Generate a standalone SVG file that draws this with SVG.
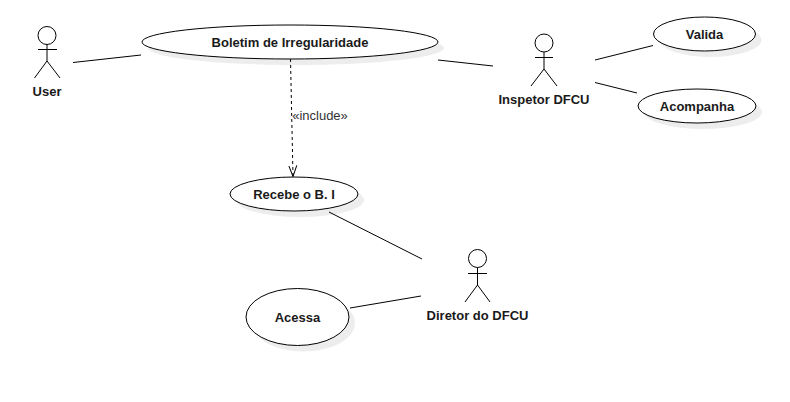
<svg xmlns="http://www.w3.org/2000/svg" width="790" height="402" viewBox="0 0 790 402">
<defs>
<style>
.uc{fill:#fff;stroke:#000;stroke-width:1}
.sh{fill:#000;opacity:.07;stroke:none}
.ac{fill:none;stroke:#000;stroke-width:1}
.head{fill:#fff;stroke:#000;stroke-width:1}
.con{fill:none;stroke:#000;stroke-width:1}
text{font-family:"Liberation Sans",Arial,sans-serif;font-size:13px;font-weight:bold;fill:#1a1a1a;text-anchor:middle}
.lab{font-weight:normal;fill:#333}
</style>
<marker id="open" markerWidth="14" markerHeight="12" refX="11" refY="5" orient="auto" markerUnits="userSpaceOnUse"><path d="M0 1 L11 5 L0 9" fill="none" stroke="#000" stroke-width="1"/></marker>
</defs>
<rect width="790" height="402" fill="#fff"/>
<g id="connectors">
<path class="con" d="M73 62.500 L141 55"/>
<path class="con" d="M438 60 L493 66"/>
<path class="con" d="M595 60 L653 45.500"/>
<path class="con" d="M595 82.500 L637 93"/>
<path class="con" d="M329 212 L422 259"/>
<path class="con" d="M350 308 L421 296"/>
<path class="con" d="M290.500 59 L293 176.500" stroke-dasharray="3 3" marker-end="url(#open)"/>
<text class="lab" x="320" y="120">«include»</text>
</g>
<g id="user">
<circle class="head" cx="47" cy="35.500" r="9"/>
<path class="ac" d="M47 44.500V61M38 49.500H57M47 61L34.500 78M47 61L60 78"/>
<text x="47" y="95.500">User</text>
</g>
<g id="boletim">
<ellipse class="sh" cx="296" cy="48" rx="148" ry="17"/>
<ellipse class="uc" cx="290" cy="42" rx="148" ry="17"/>
<text x="290" y="46.500">Boletim de Irregularidade</text>
</g>
<g id="inspetor">
<circle class="head" cx="544" cy="43" r="9"/>
<path class="ac" d="M544 52V69M535 57.500H553M544 69L531 86M544 69L557 86"/>
<text x="544" y="103.500">Inspetor DFCU</text>
</g>
<g id="valida">
<ellipse class="sh" cx="710.500" cy="40" rx="51" ry="17"/>
<ellipse class="uc" cx="704.500" cy="34" rx="51" ry="17"/>
<text x="704.500" y="38.500">Valida</text>
</g>
<g id="acompanha">
<ellipse class="sh" cx="703" cy="112" rx="59" ry="17"/>
<ellipse class="uc" cx="697" cy="106" rx="59" ry="17"/>
<text x="697" y="110.500">Acompanha</text>
</g>
<g id="recebe">
<ellipse class="sh" cx="300" cy="200" rx="64" ry="17"/>
<ellipse class="uc" cx="294" cy="194" rx="64" ry="17"/>
<text x="294" y="198.500">Recebe o B. I</text>
</g>
<g id="acessa">
<ellipse class="sh" cx="303.500" cy="323" rx="51.500" ry="28.500"/>
<ellipse class="uc" cx="297.500" cy="317" rx="51.500" ry="28.500"/>
<text x="297.500" y="321.500">Acessa</text>
</g>
<g id="diretor">
<circle class="head" cx="477.500" cy="258.500" r="9"/>
<path class="ac" d="M477.500 267.500V285M468 273.500H487M477.500 285L465 302M477.500 285L490 302"/>
<text x="477.500" y="319.500">Diretor do DFCU</text>
</g>
</svg>
